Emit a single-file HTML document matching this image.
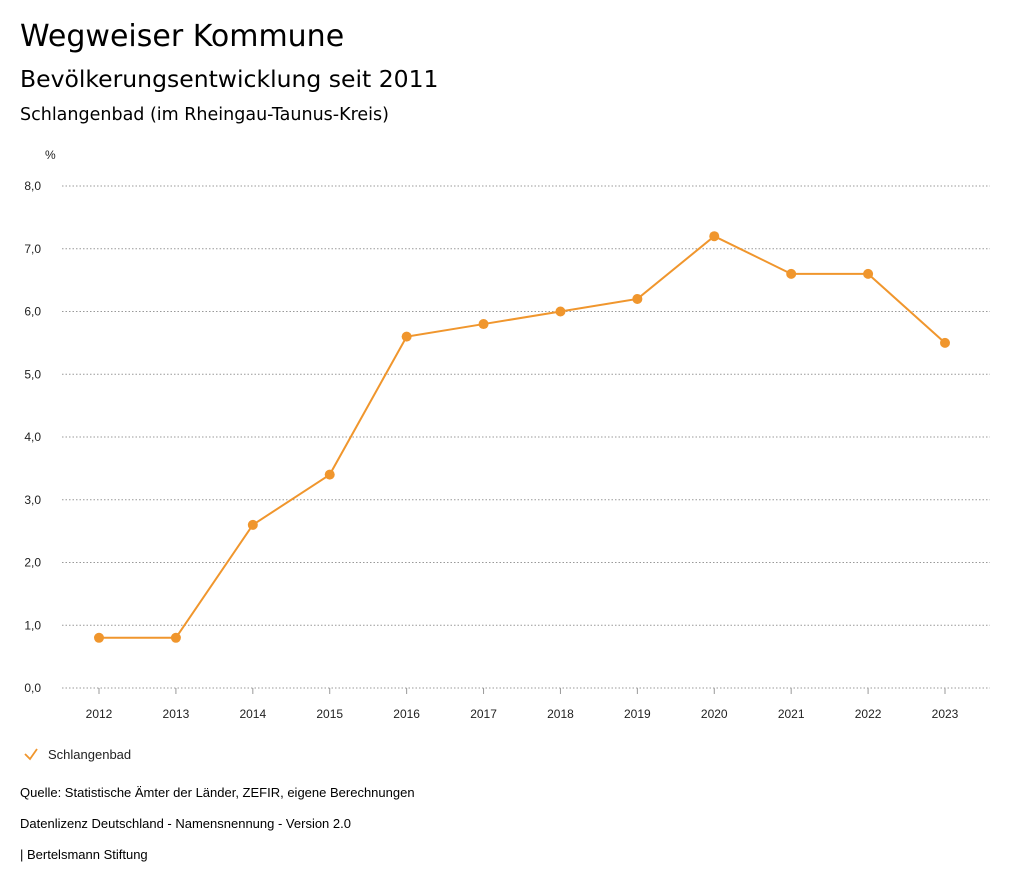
<!DOCTYPE html>
<html><head><meta charset="utf-8">
<style>
body{margin:0;background:#fff;font-family:"Liberation Sans","DejaVu Sans",sans-serif;}
#wrap{position:relative;width:1024px;height:888px;overflow:hidden;}
.t{position:absolute;left:20px;color:#000;white-space:nowrap;}
.h{font-family:"DejaVu Sans","Liberation Sans",sans-serif;}
</style></head><body>
<div id="wrap">
<div class="t h" style="top:19px;font-size:30px;">Wegweiser Kommune</div>
<div class="t h" style="top:65px;font-size:23.5px;">Bevölkerungsentwicklung seit 2011</div>
<div class="t h" style="top:105px;font-size:17.5px;">Schlangenbad (im Rheingau-Taunus-Kreis)</div>
<svg id="chart" width="1024" height="888" style="position:absolute;left:0;top:0"></svg>
<div class="t" style="top:785px;font-size:13px;">Quelle: Statistische Ämter der Länder, ZEFIR, eigene Berechnungen</div>
<div class="t" style="top:816px;font-size:13px;">Datenlizenz Deutschland - Namensnennung - Version 2.0</div>
<div class="t" style="top:847px;font-size:13px;">| Bertelsmann Stiftung</div>
</div>
<script>
const categories=["2012","2013","2014","2015","2016","2017","2018","2019","2020","2021","2022","2023"];
const values=[0.8,0.8,2.6,3.4,5.6,5.8,6.0,6.2,7.2,6.6,6.6,5.5];
const yTicks=[0,1,2,3,4,5,6,7,8];
const yTickLabels=["0,0","1,0","2,0","3,0","4,0","5,0","6,0","7,0","8,0"];
const NS="http://www.w3.org/2000/svg";
const svg=document.getElementById('chart');
const x0=99,x1=945,yBase=688,yTop=186,yMax=8;
function xs(i){return x0+(x1-x0)*i/(categories.length-1);}
function ys(v){return yBase-(yBase-yTop)*v/yMax;}
function mk(tag,attrs){const e=document.createElementNS(NS,tag);for(const k in attrs)e.setAttribute(k,attrs[k]);svg.appendChild(e);return e;}
const COL="#f0962d";
let u=mk('text',{x:45,y:159,'font-size':12,fill:'#222'});u.textContent='%';


yTicks.forEach((v,i)=>{
  const g=mk('line',{x1:62,x2:990,y1:ys(v),y2:ys(v),stroke:'#999','stroke-dasharray':'1.5,2','stroke-width':1});
  
  
  const t=mk('text',{x:41,y:ys(v)+4,'font-size':12,fill:'#222','text-anchor':'end'});t.textContent=yTickLabels[i];
  
  
});
categories.forEach((c,i)=>{
  const tk=mk('line',{x1:xs(i),x2:xs(i),y1:yBase,y2:yBase+6,stroke:'#999'});
  
  
  const t=mk('text',{x:xs(i),y:718,'font-size':12,fill:'#222','text-anchor':'middle'});t.textContent=c;
  
  
});
const pl=mk('polyline',{points:values.map((v,i)=>xs(i)+','+ys(v)).join(' '),fill:'none',stroke:COL,'stroke-width':2});


values.forEach((v,i)=>{
  const c=mk('circle',{cx:xs(i),cy:ys(v),r:5,fill:COL});
  
  
});
const lm=mk('polyline',{points:'25,754 30,759 37,749',fill:'none',stroke:COL,'stroke-width':1.8});


const lt=mk('text',{x:48,y:759,'font-size':13,fill:'#222'});lt.textContent='Schlangenbad';


</script>
</body></html>
